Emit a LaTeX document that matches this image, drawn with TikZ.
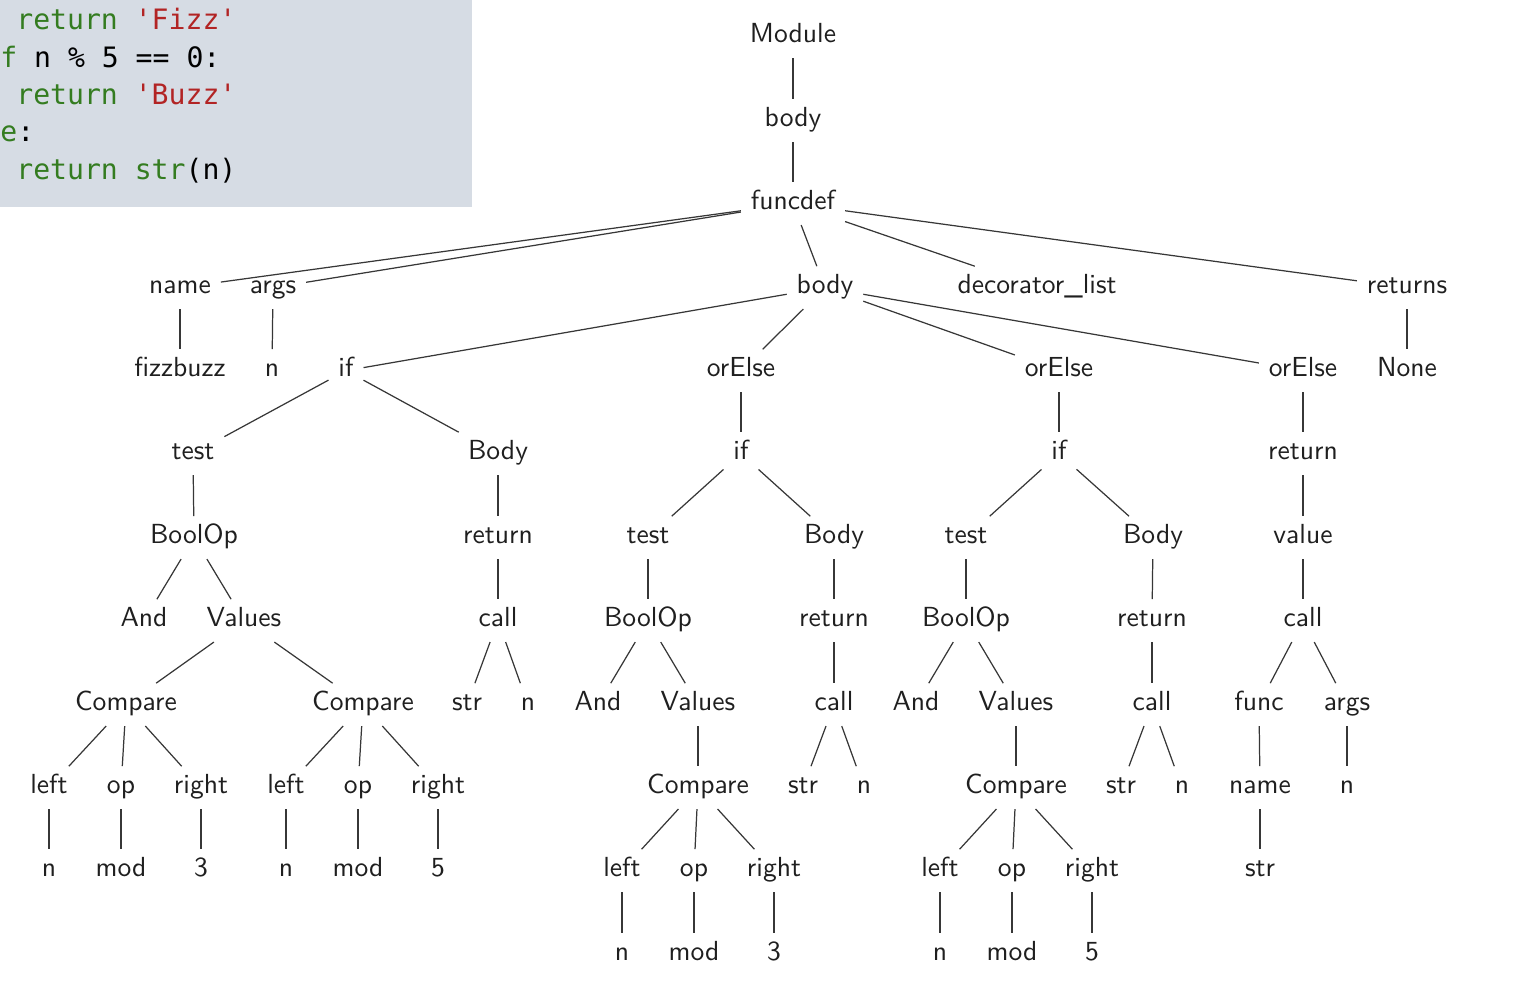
\documentclass[tikz,border=0pt]{standalone}
\usepackage{fontspec}
\newfontfamily\codefont{DejaVu Sans Mono}
\newfontfamily\treefont{lmsans10-regular.otf}
\definecolor{codebg}{RGB}{214,220,228}
\definecolor{kwgreen}{RGB}{52,124,32}
\definecolor{strred}{RGB}{178,36,36}
\definecolor{edgegray}{RGB}{55,55,55}
\begin{document}
\begin{tikzpicture}
    [%%%%%%%%%%%%%%%%%%%%%%%%%%%%%%
        x=0.02cm,y=-0.02cm,
        lbl/.style={inner sep=5.5pt,text height=10pt,text depth=3pt,yshift=-1.5pt,
            font=\treefont\fontsize{15.7}{19}\selectfont,text=black!88},
        code/.style={anchor=base west,inner sep=0pt,
            font=\codefont\fontsize{16}{20}\selectfont},
        edge/.style={draw=edgegray,line width=0.7pt}
    ]%%%%%%%%%%%%%%%%%%%%%%%%%%%%%%

\useasboundingbox (0,0) rectangle (1521,993);

% code snippet
\fill[codebg] (0,0) rectangle (472,207);
\node[code] (c1) at (16,30) {\textcolor{kwgreen}{return} \textcolor{strred}{'Fizz'}};
\node[code] (c2) at (0,68) {\textcolor{kwgreen}{f} n \% 5 == 0:};
\node[code] (c3) at (16,105) {\textcolor{kwgreen}{return} \textcolor{strred}{'Buzz'}};
\node[code] (c4) at (0,142) {\textcolor{kwgreen}{e}:};
\node[code] (c5) at (16,180) {\textcolor{kwgreen}{return str}(n)};

% top
\node[lbl] (mdl) at (793,34) {Module};
\node[lbl] (bd0) at (793,118) {body};
\node[lbl] (fdef) at (793,201) {funcdef};
\node[lbl] (nm) at (180,285) {name};
\node[lbl] (ags) at (273,285) {args};
\node[lbl] (bd1) at (825,285) {body};
\node[lbl] (dec) at (1037,285) {decorator\_list};
\node[lbl] (rets) at (1407,285) {returns};
\node[lbl] (fzb) at (180,368) {fizzbuzz};
\node[lbl] (agn) at (272,368) {n};
\node[lbl] (if1) at (346,368) {if};
\node[lbl] (oe1) at (741,368) {orElse};
\node[lbl] (oe2) at (1059,368) {orElse};
\node[lbl] (oe3) at (1303,368) {orElse};
\node[lbl] (non) at (1407,368) {None};

% first if
\node[lbl] (ts1) at (193,451) {test};
\node[lbl] (By1) at (498,451) {Body};
\node[lbl] (bo1) at (194,535) {BoolOp};
\node[lbl] (rt1) at (498,535) {return};
\node[lbl] (and1) at (144,618) {And};
\node[lbl] (val1) at (244,618) {Values};
\node[lbl] (cl1) at (498,618) {call};
\node[lbl] (cmpA) at (126,702) {Compare};
\node[lbl] (cmpB) at (363,702) {Compare};
\node[lbl] (str1) at (467,702) {str};
\node[lbl] (cn1) at (528,702) {n};
\node[lbl] (lfA) at (49,785) {left};
\node[lbl] (opA) at (121,785) {op};
\node[lbl] (rgA) at (201,785) {right};
\node[lbl] (lfB) at (286,785) {left};
\node[lbl] (opB) at (358,785) {op};
\node[lbl] (rgB) at (438,785) {right};
\node[lbl] (nA) at (49,868) {n};
\node[lbl] (mdA) at (121,868) {mod};
\node[lbl] (vA) at (201,868) {3};
\node[lbl] (nB) at (286,868) {n};
\node[lbl] (mdB) at (358,868) {mod};
\node[lbl] (vB) at (438,868) {5};

% second if
\node[lbl] (if2) at (741,451) {if};
\node[lbl] (ts2) at (648,535) {test};
\node[lbl] (By2) at (834,535) {Body};
\node[lbl] (bo2) at (648,618) {BoolOp};
\node[lbl] (rt2) at (834,618) {return};
\node[lbl] (and2) at (598,702) {And};
\node[lbl] (val2) at (698,702) {Values};
\node[lbl] (cl2) at (834,702) {call};
\node[lbl] (cmpC) at (698,785) {Compare};
\node[lbl] (str2) at (803,785) {str};
\node[lbl] (cn2) at (864,785) {n};
\node[lbl] (lfC) at (622,868) {left};
\node[lbl] (opC) at (694,868) {op};
\node[lbl] (rgC) at (774,868) {right};
\node[lbl] (nC) at (622,952) {n};
\node[lbl] (mdC) at (694,952) {mod};
\node[lbl] (vC) at (774,952) {3};

% third if
\node[lbl] (if3) at (1059,451) {if};
\node[lbl] (ts3) at (966,535) {test};
\node[lbl] (By3) at (1153,535) {Body};
\node[lbl] (bo3) at (966,618) {BoolOp};
\node[lbl] (rt3) at (1152,618) {return};
\node[lbl] (and3) at (916,702) {And};
\node[lbl] (val3) at (1016,702) {Values};
\node[lbl] (cl3) at (1152,702) {call};
\node[lbl] (cmpD) at (1016,785) {Compare};
\node[lbl] (str3) at (1121,785) {str};
\node[lbl] (cn3) at (1182,785) {n};
\node[lbl] (lfD) at (940,868) {left};
\node[lbl] (opD) at (1012,868) {op};
\node[lbl] (rgD) at (1092,868) {right};
\node[lbl] (nD) at (940,952) {n};
\node[lbl] (mdD) at (1012,952) {mod};
\node[lbl] (vD) at (1092,952) {5};

% else
\node[lbl] (rt4) at (1303,451) {return};
\node[lbl] (vl4) at (1303,535) {value};
\node[lbl] (cl4) at (1303,618) {call};
\node[lbl] (fnc) at (1259,702) {func};
\node[lbl] (ags4) at (1347,702) {args};
\node[lbl] (nm4) at (1260,785) {name};
\node[lbl] (an4) at (1347,785) {n};
\node[lbl] (sn4) at (1260,868) {str};

\foreach \a/\b in {mdl/bd0,bd0/fdef,fdef/nm,fdef/ags,fdef/bd1,fdef/dec,fdef/rets,
    nm/fzb,ags/agn,rets/non,bd1/if1,bd1/oe1,bd1/oe2,bd1/oe3,
    if1/ts1,if1/By1,ts1/bo1,bo1/and1,bo1/val1,val1/cmpA,val1/cmpB,
    cmpA/lfA,cmpA/opA,cmpA/rgA,lfA/nA,opA/mdA,rgA/vA,
    cmpB/lfB,cmpB/opB,cmpB/rgB,lfB/nB,opB/mdB,rgB/vB,
    By1/rt1,rt1/cl1,cl1/str1,cl1/cn1,
    oe1/if2,if2/ts2,if2/By2,ts2/bo2,bo2/and2,bo2/val2,val2/cmpC,
    cmpC/lfC,cmpC/opC,cmpC/rgC,lfC/nC,opC/mdC,rgC/vC,
    By2/rt2,rt2/cl2,cl2/str2,cl2/cn2,
    oe2/if3,if3/ts3,if3/By3,ts3/bo3,bo3/and3,bo3/val3,val3/cmpD,
    cmpD/lfD,cmpD/opD,cmpD/rgD,lfD/nD,opD/mdD,rgD/vD,
    By3/rt3,rt3/cl3,cl3/str3,cl3/cn3,
    oe3/rt4,rt4/vl4,vl4/cl4,cl4/fnc,cl4/ags4,fnc/nm4,nm4/sn4,ags4/an4}
    \draw[edge] (\a) -- (\b);

\end{tikzpicture}
\end{document}
